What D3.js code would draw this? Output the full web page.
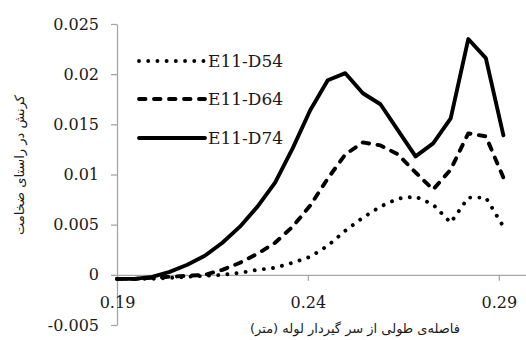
<!DOCTYPE html>
<html>
<head>
<meta charset="utf-8">
<script src="https://cdn.jsdelivr.net/npm/d3@7"></script>
<style>
  html, body { margin: 0; padding: 0; background: #fff; }
  svg { display: block; }
</style>
</head>
<body>
<div id="chart"></div>
<script>
// distance from the fixed end (m)
const xValues = [0.19, 0.1946, 0.1992, 0.2038, 0.2084, 0.213, 0.2176, 0.2222, 0.2268, 0.2314, 0.236, 0.2406,
  0.2452, 0.2498, 0.2544, 0.259, 0.2636, 0.2682, 0.2728, 0.2774, 0.282, 0.2866, 0.2912];

const d54 = [-0.0004, -0.0004, -0.0004, -0.0003, -0.0002, -0.0001, 0.0000, 0.0002, 0.0005, 0.0007, 0.0012, 0.0018,
  0.0029, 0.0044, 0.0057, 0.0068, 0.0076, 0.0078, 0.0070, 0.0052, 0.0077, 0.0077, 0.0048];
const d64 = [-0.0004, -0.0004, -0.0003, -0.0002, -0.0001, 0.0000, 0.0005, 0.0012, 0.0021, 0.0032, 0.0048, 0.0069,
  0.0096, 0.0120, 0.0132, 0.0129, 0.0120, 0.0102, 0.0085, 0.0105, 0.0141, 0.0138, 0.0097];
const d74 = [-0.0004, -0.0004, -0.0002, 0.0003, 0.0010, 0.0019, 0.0032, 0.0048, 0.0068, 0.0092, 0.0126, 0.0164,
  0.0194, 0.0201, 0.0181, 0.0170, 0.0144, 0.0118, 0.0131, 0.0156, 0.0235, 0.0216, 0.0139];

const seriesNames = ['E11-D54', 'E11-D64', 'E11-D74'];
const yTicks = [-0.005, 0, 0.005, 0.01, 0.015, 0.02, 0.025];
const yTickLabels = ['-0.005', '0', '0.005', '0.01', '0.015', '0.02', '0.025'];
const xTicks = [0.19, 0.24, 0.29];
const xTickLabels = ['0.19', '0.24', '0.29'];
const xTitle = 'فاصله‌ی طولی از سر گیردار لوله  (متر)';
const yTitle = 'کرنش در راستای ضخامت';

const width = 526, height = 340;

const x = d3.scaleLinear().domain([0.19, 0.30]).range([117, 537]);
const y = d3.scaleLinear().domain([-0.005, 0.025]).range([325, 24]);

const svg = d3.select('#chart')
  .append('svg')
  .attr('width', width)
  .attr('height', height)
  .attr('viewBox', `0 0 ${width} ${height}`);

const axisColor = '#a6a6a6';
const tickFont = 'DejaVu Serif, serif';

// y axis
const yAxis = svg.append('g')
  .attr('transform', `translate(${x(0.19)},0)`)
  .call(d3.axisLeft(y)
    .tickValues(yTicks)
    .tickFormat((d, i) => yTickLabels[i])
    .tickSize(6)
    .tickSizeOuter(0)
    .tickPadding(12));

// x axis crosses at y = 0
const xAxis = svg.append('g')
  .attr('transform', `translate(0,${y(0)})`)
  .call(d3.axisBottom(x)
    .tickValues(xTicks)
    .tickFormat((d, i) => xTickLabels[i])
    .tickSize(6)
    .tickSizeOuter(0)
    .tickPadding(16));

[yAxis, xAxis].forEach(g => {
  g.select('.domain').attr('stroke', axisColor).attr('stroke-width', 1.3);
  g.selectAll('.tick line').attr('stroke', axisColor).attr('stroke-width', 1.3);
  g.selectAll('.tick text')
    .attr('fill', '#1a1a1a')
    .attr('font-family', tickFont)
    .attr('font-size', 16);
});

// series
const styles = [
  { dash: '0.01,9.2' },
  { dash: '6.5,8.5' },
  { dash: null }
];
const seriesValues = [d54, d64, d74];

const line = d3.line()
  .x(d => x(d[0]))
  .y(d => y(d[1]));

seriesValues.forEach((vals, i) => {
  const pts = xValues.map((xv, j) => [xv, vals[j]]);
  svg.append('path')
    .datum(pts)
    .attr('d', line)
    .attr('fill', 'none')
    .attr('stroke', '#000')
    .attr('stroke-width', 3.9)
    .attr('stroke-linecap', 'round')
    .attr('stroke-linejoin', 'round')
    .attr('stroke-dasharray', styles[i].dash);
});

// legend
const legendY = [61, 99, 138];
const legend = svg.append('g');
seriesNames.forEach((name, i) => {
  legend.append('line')
    .attr('x1', 139).attr('x2', 205)
    .attr('y1', legendY[i]).attr('y2', legendY[i])
    .attr('stroke', '#000')
    .attr('stroke-width', 3.9)
    .attr('stroke-linecap', 'round')
    .attr('stroke-dasharray', styles[i].dash);
  legend.append('text')
    .attr('x', 208)
    .attr('y', legendY[i])
    .attr('dy', '0.36em')
    .attr('font-family', tickFont)
    .attr('font-size', 17)
    .attr('fill', '#1a1a1a')
    .text(name);
});

// axis titles
svg.append('text')
  .attr('x', 355)
  .attr('y', 328)
  .attr('dy', '0.35em')
  .attr('text-anchor', 'middle')
  .attr('direction', 'rtl')
  .attr('font-family', 'DejaVu Sans, sans-serif')
  .attr('font-size', 13)
  .attr('fill', '#1a1a1a')
  .text(xTitle);

svg.append('text')
  .attr('transform', 'translate(19,165) rotate(-90)')
  .attr('dy', '0.35em')
  .attr('text-anchor', 'middle')
  .attr('direction', 'rtl')
  .attr('font-family', 'DejaVu Sans, sans-serif')
  .attr('font-size', 13)
  .attr('fill', '#1a1a1a')
  .text(yTitle);
</script>
</body>
</html>
